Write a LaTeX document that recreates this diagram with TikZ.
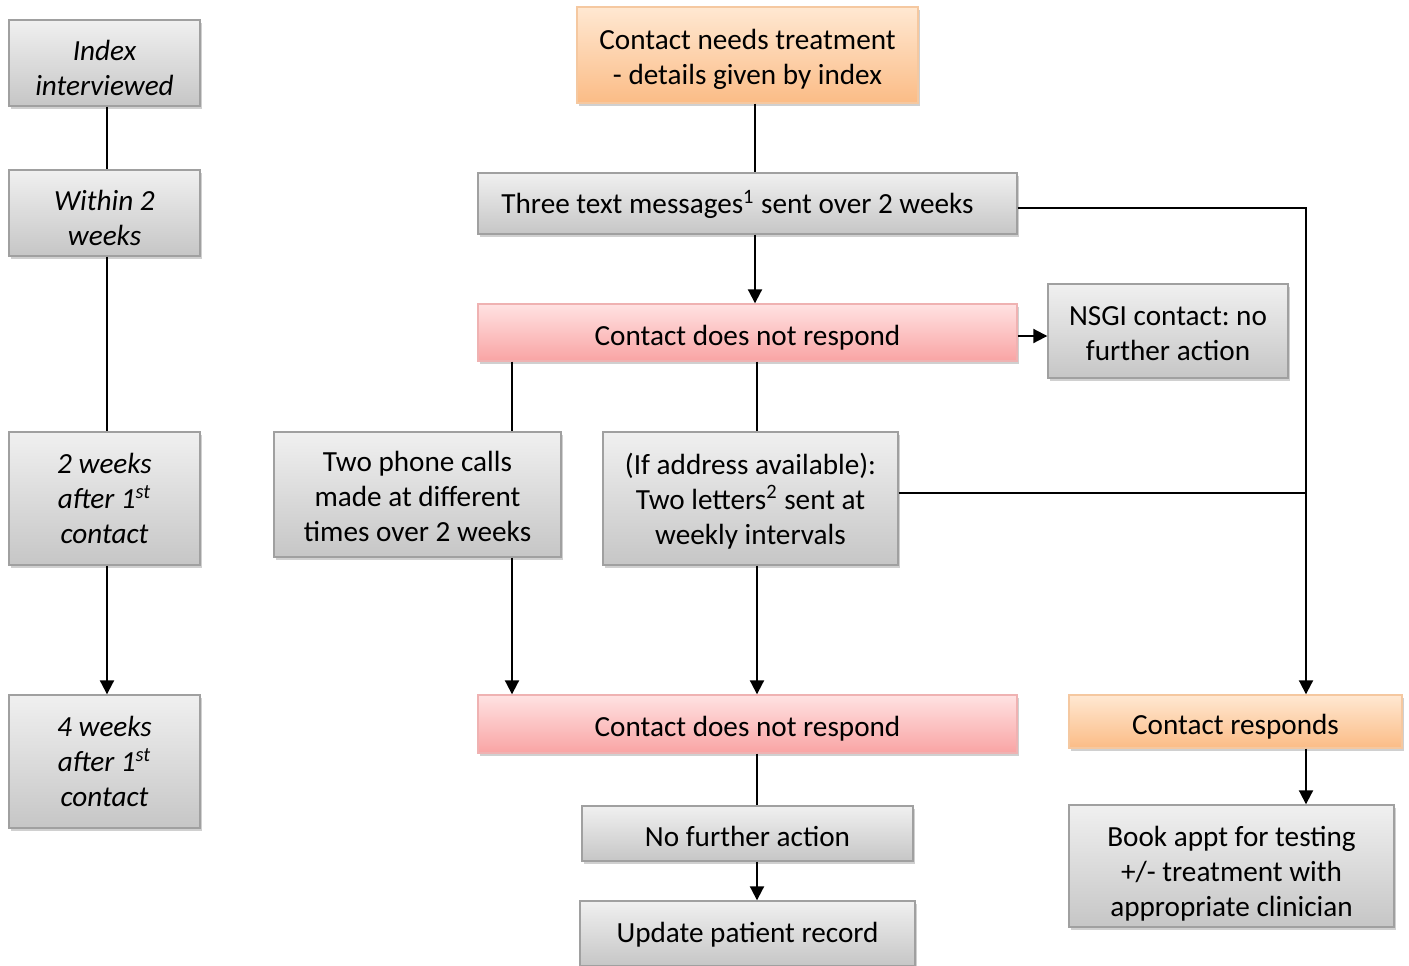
\documentclass[tikz,border=0pt]{standalone}
\usepackage{fontspec}
\setmainfont{Carlito}
\frenchspacing
\usetikzlibrary{arrows.meta,shadows,calc}
\definecolor{gtop}{HTML}{F0F0F0}
\definecolor{gbot}{HTML}{C6C6C6}
\definecolor{gbrd}{HTML}{A0A0A0}
\definecolor{ptop}{HTML}{FFE2E2}
\definecolor{pbot}{HTML}{F9A4A4}
\definecolor{pbrd}{HTML}{EFB2B2}
\definecolor{otop}{HTML}{FFE8D2}
\definecolor{obot}{HTML}{FBBC86}
\definecolor{obrd}{HTML}{F5C8A0}
\newcommand\fl[1]{\rule{0pt}{#1pt}}
\def\rhval{15}
\tikzset{
  rh/.store in=\rhval,
  base/.style={rectangle, inner sep=0pt, align=center, line width=0.7pt,
    font=\fontsize{14.6pt}{17.5pt}\selectfont, rh=15,
    execute at begin node={\rule{0pt}{\rhval pt}},
    drop shadow={shadow xshift=0.8pt, shadow yshift=-1.4pt, opacity=0.3, fill=black!60}},
  gbox/.style={base, draw=gbrd, top color=gtop, bottom color=gbot},
  pbox/.style={base, draw=pbrd, top color=ptop, bottom color=pbot},
  obox/.style={base, draw=obrd, top color=otop, bottom color=obot},
  ibox/.style={gbox, font=\fontsize{14.6pt}{17.5pt}\selectfont\itshape},
  conn/.style={line width=1pt, black},
  arr/.style={conn, -{Triangle[length=7pt,width=7pt]}}
}
\begin{document}
\begin{tikzpicture}[x=0.5pt,y=-0.5pt]
\clip (0,0) rectangle (1409,965);
\fill[white] (0,0) rectangle (1409,965);
% column and row coordinates
\coordinate (colL) at (107,0);
\coordinate (colM) at (755,0);
\coordinate (colN) at (757,0);
\coordinate (colP) at (512,0);
\coordinate (colR) at (1306,0);
\coordinate (rowT) at (0,208);
\coordinate (rowN) at (0,336);
\coordinate (rowL) at (0,493);
% left column
\node[ibox, minimum width=95.5pt, minimum height=43pt] (idx) at (104.5,63) {\fl{15.4}Index\\interviewed};
\node[ibox, minimum width=95.5pt, minimum height=43pt] (within) at (104.5,213) {\fl{15.4}Within 2\\weeks};
\node[ibox, minimum width=95.5pt, minimum height=66.5pt] (wk2) at (104.5,498.5) {2 weeks\\after 1\textsuperscript{st}\\contact};
\node[ibox, minimum width=95.5pt, minimum height=66.5pt] (wk4) at (104.5,761.5) {4 weeks\\after 1\textsuperscript{st}\\contact};
% main flow
\node[obox, minimum width=170.5pt, minimum height=48pt] (need) at (747.5,55) {\fl{14.4}Contact needs treatment\\- details given by index};
\node[gbox, rh=13, minimum width=269.5pt, minimum height=30.5pt] (text) at (747.5,203.5) {Three text messages\textsuperscript{1} sent over 2 weeks\hspace*{10pt}};
\node[pbox, minimum width=269.5pt, minimum height=28.5pt] (nr1) at (747.5,332.5) {Contact does not respond};
\node[gbox, minimum width=120pt, minimum height=47pt] (nsgi) at (1168,331) {\fl{12.4}NSGI contact: no\\further action};
\node[gbox, minimum width=143.5pt, minimum height=62.5pt] (phone) at (417.5,494.5) {\fl{12.4}Two phone calls\\made at different\\times over 2 weeks};
\node[gbox, minimum width=147.5pt, minimum height=66.5pt] (letters) at (750.5,498.5) {\fl{13}(If address available):\\Two letters\textsuperscript{2} sent at\\weekly intervals};
\node[pbox, minimum width=269.5pt, minimum height=29pt] (nr2) at (747.5,724) {Contact does not respond};
\node[obox, minimum width=166.5pt, minimum height=26.5pt] (resp) at (1235.5,721.5) {Contact responds};
\node[gbox, rh=13, minimum width=165.5pt, minimum height=27.5pt] (nfa) at (747.5,833.5) {No further action};
\node[gbox, rh=11.5, minimum width=167.5pt, minimum height=32.5pt] (upd) at (747.5,933.5) {Update patient record};
\node[gbox, minimum width=162.5pt, minimum height=61pt] (book) at (1231.5,866) {\fl{17.4}Book appt for testing\\+/- treatment with\\appropriate clinician};
% left connectors
\draw[conn] (idx.south -| colL) -- (within.north -| colL);
\draw[conn] (within.south -| colL) -- (wk2.north -| colL);
\draw[arr] (wk2.south -| colL) -- (wk4.north -| colL);
% main connectors
\draw[conn] (need.south -| colM) -- (text.north -| colM);
\draw[arr] (text.south -| colM) -- (nr1.north -| colM);
\draw[arr] (text.east |- rowT) -- (colR |- rowT) -- (resp.north -| colR);
\draw[arr] (nr1.east |- rowN) -- (nsgi.west |- rowN);
\draw[conn] (nr1.south -| colP) -- (phone.north -| colP);
\draw[conn] (nr1.south -| colN) -- (letters.north -| colN);
\draw[arr] (phone.south -| colP) -- (nr2.north -| colP);
\draw[arr] (letters.south -| colN) -- (nr2.north -| colN);
\draw[conn] (letters.east |- rowL) -- (colR |- rowL);
\draw[conn] (nr2.south -| colN) -- (nfa.north -| colN);
\draw[arr] (nfa.south -| colN) -- (upd.north -| colN);
\draw[arr] (resp.south -| colR) -- (book.north -| colR);
\end{tikzpicture}
\end{document}
